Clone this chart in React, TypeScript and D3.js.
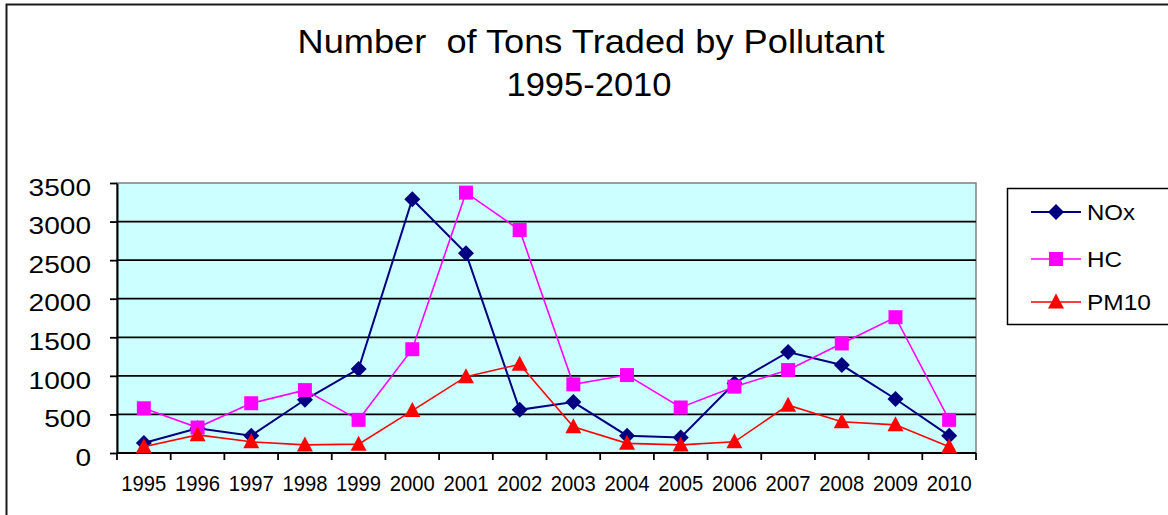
import React, { useEffect, useRef } from 'react';
import * as d3 from 'd3';

const years = ['1995','1996','1997','1998','1999','2000','2001','2002','2003','2004','2005','2006','2007','2008','2009','2010'];
const noxValues = [130, 320, 225, 690, 1090, 3290, 2590, 560, 660, 225, 200, 905, 1310, 1140, 700, 225];
const hcValues = [580, 330, 645, 815, 430, 1345, 3375, 2890, 890, 1010, 590, 860, 1075, 1420, 1760, 430];
const pm10Values = [80, 235, 145, 105, 115, 550, 990, 1150, 340, 125, 105, 145, 620, 405, 365, 80];
const yTicks = [0, 500, 1000, 1500, 2000, 2500, 3000, 3500];

const seriesList = [
  { name: 'NOx', values: noxValues, color: '#000080', width: 2, marker: 'diamond', textLen: 48 },
  { name: 'HC', values: hcValues, color: '#FF00FF', width: 1.6, marker: 'square', textLen: 35 },
  { name: 'PM10', values: pm10Values, color: '#FF0000', width: 1.6, marker: 'triangle', textLen: 64 },
];

export default function App() {
  const chartRef = useRef(null);

  useEffect(() => {
    document.body.style.margin = '0';
    const svg = d3.select(chartRef.current);
    svg.selectAll('*').remove();

    const plot = { left: 117, right: 976, top: 183, bottom: 453 };
    const font = 'Arial, "Liberation Sans", sans-serif';

    // outer chart frame
    svg.append('rect')
      .attr('x', 6.5).attr('y', 4.5)
      .attr('width', 1200).attr('height', 600)
      .attr('fill', '#fff').attr('stroke', '#1a1a1a').attr('stroke-width', 2);

    // title
    svg.append('text')
      .attr('x', 591).attr('y', 53)
      .attr('text-anchor', 'middle')
      .attr('font-family', font).attr('font-size', 33)
      .attr('textLength', 587).attr('lengthAdjust', 'spacingAndGlyphs')
      .attr('xml:space', 'preserve')
      .text('Number  of Tons Traded by Pollutant');
    svg.append('text')
      .attr('x', 589).attr('y', 96)
      .attr('text-anchor', 'middle')
      .attr('font-family', font).attr('font-size', 33)
      .attr('textLength', 165).attr('lengthAdjust', 'spacingAndGlyphs')
      .text('1995-2010');

    const x = d3.scaleBand().domain(years).range([plot.left, plot.right]);
    const y = d3.scaleLinear().domain([0, 3500]).range([plot.bottom, plot.top]);
    const cx = (d) => x(d) + x.bandwidth() / 2;

    // plot background
    svg.append('rect')
      .attr('x', plot.left).attr('y', plot.top)
      .attr('width', plot.right - plot.left).attr('height', plot.bottom - plot.top)
      .attr('fill', '#CCFFFF').attr('stroke', '#808080').attr('stroke-width', 1.5);

    // gridlines
    svg.append('g')
      .selectAll('line')
      .data(yTicks.filter(t => t > 0 && t < 3500))
      .join('line')
      .attr('x1', plot.left).attr('x2', plot.right)
      .attr('y1', d => y(d)).attr('y2', d => y(d))
      .attr('stroke', '#000').attr('stroke-width', 1.8);

    // y axis
    const yAxis = svg.append('g')
      .attr('transform', `translate(${plot.left},0)`)
      .call(d3.axisLeft(y).tickValues(yTicks).tickFormat(d3.format('d')).tickSize(7).tickPadding(19).tickSizeOuter(0));
    yAxis.select('.domain').attr('stroke', '#000').attr('stroke-width', 2);
    yAxis.selectAll('.tick line').attr('stroke', '#000').attr('stroke-width', 1.8);
    yAxis.selectAll('.tick text')
      .attr('font-family', font).attr('font-size', 23).attr('fill', '#000')
      .attr('dy', '0.53em')
      .attr('textLength', d => String(d).length * 15.6)
      .attr('lengthAdjust', 'spacingAndGlyphs');

    // x axis
    const xAxis = svg.append('g')
      .attr('transform', `translate(0,${plot.bottom})`)
      .call(d3.axisBottom(x).tickSize(0).tickSizeOuter(0));
    xAxis.select('.domain').remove();
    xAxis.append('line')
      .attr('x1', plot.left).attr('x2', plot.right)
      .attr('stroke', '#000').attr('stroke-width', 2);
    xAxis.selectAll('.tick text')
      .attr('font-family', font).attr('font-size', 22).attr('fill', '#000')
      .attr('y', 38).attr('dy', 0)
      .attr('textLength', 45).attr('lengthAdjust', 'spacingAndGlyphs');
    xAxis.append('g')
      .selectAll('line')
      .data([...years.map(d => x(d)), plot.right])
      .join('line')
      .attr('x1', d => d).attr('x2', d => d)
      .attr('y1', 0).attr('y2', 7)
      .attr('stroke', '#000').attr('stroke-width', 1.8);

    const markerPath = (type) => {
      if (type === 'diamond') return 'M0,-8L8,0L0,8L-8,0Z';
      if (type === 'square') return 'M-7,-7H7V7H-7Z';
      return 'M0,-8.5L8,6.5L-8,6.5Z';
    };

    const line = d3.line()
      .x((d, i) => cx(years[i]))
      .y(d => y(d));

    seriesList.forEach(s => {
      svg.append('path')
        .datum(s.values)
        .attr('fill', 'none')
        .attr('stroke', s.color)
        .attr('stroke-width', s.width)
        .attr('d', line);
      svg.append('g')
        .selectAll('path')
        .data(s.values)
        .join('path')
        .attr('transform', (d, i) => `translate(${cx(years[i])},${y(d)})`)
        .attr('d', markerPath(s.marker))
        .attr('fill', s.color);
    });

    // legend
    svg.append('rect')
      .attr('x', 1007.5).attr('y', 188.5)
      .attr('width', 200).attr('height', 136)
      .attr('fill', '#fff').attr('stroke', '#000').attr('stroke-width', 1.5);
    const legendY = [212, 259, 302];
    seriesList.forEach((s, i) => {
      const g = svg.append('g').attr('transform', `translate(0,${legendY[i]})`);
      g.append('line')
        .attr('x1', 1031).attr('x2', 1081)
        .attr('stroke', s.color).attr('stroke-width', s.width);
      g.append('path')
        .attr('transform', 'translate(1056,0)')
        .attr('d', markerPath(s.marker))
        .attr('fill', s.color);
      g.append('text')
        .attr('x', 1087).attr('y', 8)
        .attr('font-family', font).attr('font-size', 22)
        .attr('textLength', s.textLen).attr('lengthAdjust', 'spacingAndGlyphs')
        .text(s.name);
    });
  }, []);

  return (
    <svg width={1168} height={515} style={{ display: 'block' }} ref={chartRef} />
  );
}
